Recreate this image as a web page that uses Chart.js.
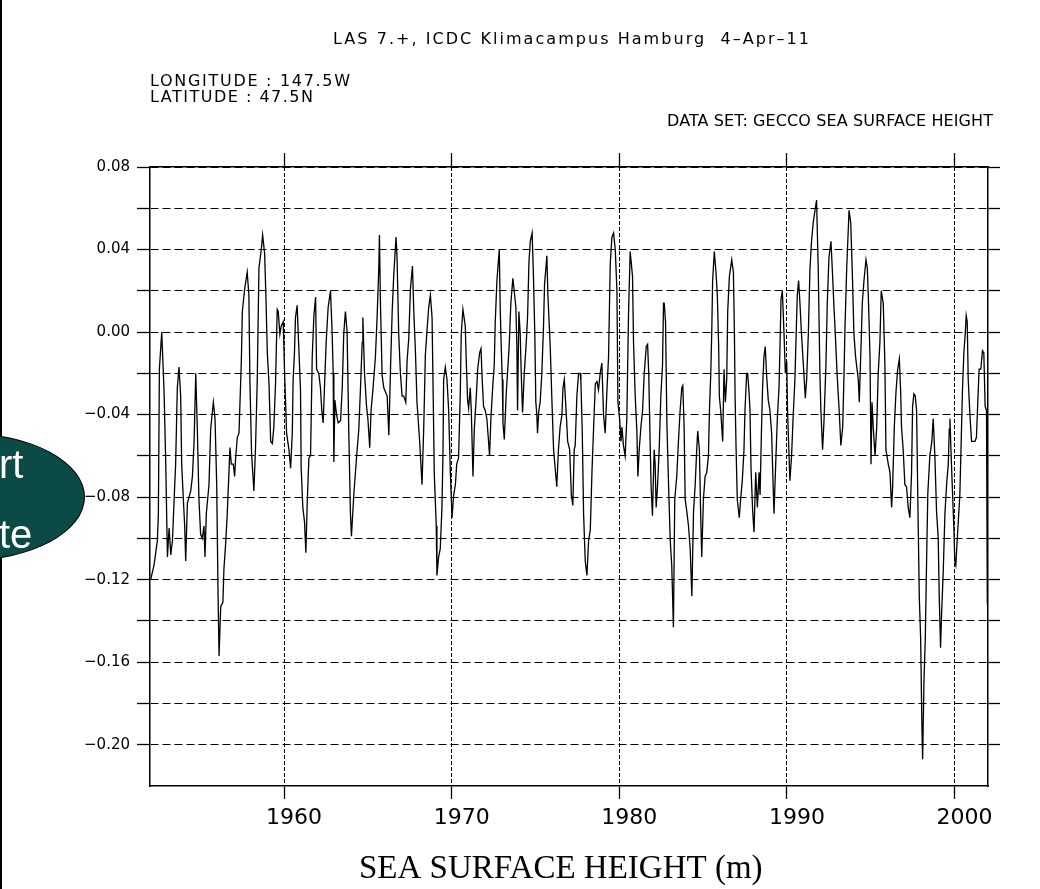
<!DOCTYPE html>
<html>
<head>
<meta charset="utf-8">
<title>GECCO sea surface height 147.5W 47.5N</title>
<script src="https://cdn.jsdelivr.net/npm/chart.js@4/dist/chart.umd.min.js"></script>
<style>
  html, body { margin: 0; padding: 0; background: #fff; }
  #page { position: relative; width: 1040px; height: 889px; overflow: hidden; background: #fff; }
  #sshChart { position: absolute; left: 0; top: 0; }
  .head { position: absolute; font-family: 'DejaVu Sans', sans-serif; font-size: 16px; line-height: 1; white-space: pre; color: #000; }
  #edge { position: absolute; left: 0; top: 0; width: 2px; height: 889px; background: #000; }
  #oval { position: absolute; left: -155px; top: 433px; width: 240px; height: 128px; border-radius: 50%;
          background: #0b4a45; border: 1px solid #000; box-sizing: border-box; }
  .ovalText { position: absolute; left: -1px; font-family: 'Liberation Sans', Arial, sans-serif; font-size: 40px; line-height: 1; color: #fff; }
</style>
</head>
<body>
<div id="page">
  <canvas id="sshChart" width="1040" height="889"></canvas>
  <div id="edge"></div>
  <div id="oval"></div>
  <div class="ovalText" style="top:444px">rt</div>
  <div class="ovalText" style="top:514px">te</div>
  <div class="head" id="hTitle" style="left:333px; top:30.6px">LAS 7.+, ICDC Klimacampus Hamburg  4–Apr–11</div>
  <div class="head" id="hLon" style="left:150px; top:73.3px">LONGITUDE : 147.5W</div>
  <div class="head" id="hLat" style="left:150px; top:88.6px">LATITUDE : 47.5N</div>
  <div class="head" id="hSet" style="left:667px; top:112.8px">DATA SET: GECCO SEA SURFACE HEIGHT</div>
</div>
<script>
// time axis (decimal years) and sea surface height (m)
const years = [
  1952.04, 1952.24, 1952.34, 1952.44, 1952.50, 1952.56, 1952.70, 1952.84, 1952.94,
  1953.04, 1953.14, 1953.24, 1953.34, 1953.43, 1953.53, 1953.63, 1953.73, 1953.83, 1953.89, 1953.99,
  1954.07, 1954.13, 1954.23, 1954.43, 1954.53, 1954.63, 1954.73, 1954.83, 1954.92,
  1955.02, 1955.12, 1955.22, 1955.28, 1955.36, 1955.52, 1955.62, 1955.78, 1955.88, 1955.98,
  1956.06, 1956.12, 1956.22, 1956.35, 1956.41, 1956.51, 1956.61, 1956.71, 1956.77, 1956.85, 1956.97,
  1957.05, 1957.11, 1957.21, 1957.31, 1957.45, 1957.51, 1957.65, 1957.80, 1957.90, 1957.96,
  1958.06, 1958.20, 1958.30, 1958.40, 1958.50, 1958.64, 1958.72, 1958.84, 1958.92,
  1959.00, 1959.10, 1959.20, 1959.30, 1959.39, 1959.49, 1959.59, 1959.65, 1959.75, 1959.83, 1959.95,
  1960.03, 1960.09, 1960.15, 1960.29, 1960.39, 1960.49, 1960.54, 1960.62, 1960.68, 1960.78, 1960.88, 1960.98,
  1961.02, 1961.12, 1961.22, 1961.30, 1961.38, 1961.48, 1961.58, 1961.68, 1961.78, 1961.88, 1961.94,
  1962.07, 1962.17, 1962.25, 1962.33, 1962.41, 1962.51, 1962.63, 1962.77, 1962.87, 1962.93, 1962.97,
  1963.03, 1963.13, 1963.23, 1963.37, 1963.47, 1963.56, 1963.66, 1963.76, 1963.86, 1963.96,
  1964.02, 1964.16, 1964.32, 1964.46, 1964.56, 1964.66, 1964.70, 1964.80, 1964.92,
  1965.00, 1965.11, 1965.19, 1965.31, 1965.45, 1965.55, 1965.65, 1965.69, 1965.75, 1965.85, 1965.95,
  1966.05, 1966.15, 1966.25, 1966.35, 1966.45, 1966.54, 1966.68, 1966.74, 1966.84, 1966.94,
  1967.04, 1967.14, 1967.26, 1967.34, 1967.44, 1967.54, 1967.66, 1967.74, 1967.84, 1967.93,
  1968.09, 1968.23, 1968.33, 1968.37, 1968.43, 1968.53, 1968.63, 1968.73, 1968.83, 1968.89, 1968.96,
  1969.02, 1969.08, 1969.12, 1969.22, 1969.32, 1969.42, 1969.48, 1969.52, 1969.62, 1969.72, 1969.82, 1969.92,
  1970.02, 1970.12, 1970.22, 1970.30, 1970.41, 1970.51, 1970.57, 1970.67, 1970.81, 1970.87, 1970.95,
  1971.01, 1971.11, 1971.17, 1971.27, 1971.35, 1971.47, 1971.55, 1971.67, 1971.75, 1971.81, 1971.90,
  1972.00, 1972.10, 1972.20, 1972.26, 1972.34, 1972.46, 1972.54, 1972.60, 1972.70, 1972.84, 1972.90, 1972.96,
  1973.02, 1973.06, 1973.14, 1973.26, 1973.33, 1973.43, 1973.53, 1973.65, 1973.73, 1973.83, 1973.89, 1973.93,
  1974.01, 1974.09, 1974.15, 1974.23, 1974.33, 1974.45, 1974.53, 1974.61, 1974.69, 1974.80, 1974.88, 1974.96,
  1975.02, 1975.08, 1975.12, 1975.20, 1975.28, 1975.38, 1975.48, 1975.54, 1975.68, 1975.74, 1975.88, 1975.98,
  1976.08, 1976.27, 1976.37, 1976.47, 1976.58, 1976.64, 1976.72, 1976.84, 1976.92,
  1977.04, 1977.14, 1977.23, 1977.31, 1977.37, 1977.47, 1977.57, 1977.67, 1977.71, 1977.79, 1977.87, 1977.97,
  1978.07, 1978.17, 1978.27, 1978.37, 1978.47, 1978.57, 1978.67, 1978.76, 1978.86, 1978.96,
  1979.06, 1979.16, 1979.26, 1979.36, 1979.46, 1979.56, 1979.66, 1979.76, 1979.86, 1979.92,
  1980.02, 1980.10, 1980.16, 1980.25, 1980.35, 1980.45, 1980.55, 1980.65, 1980.69, 1980.79, 1980.85, 1980.95,
  1981.05, 1981.11, 1981.19, 1981.29, 1981.39, 1981.49, 1981.61, 1981.69, 1981.76, 1981.84, 1981.90, 1981.98,
  1982.08, 1982.14, 1982.20, 1982.28, 1982.38, 1982.48, 1982.58, 1982.64, 1982.68, 1982.76, 1982.84, 1982.94,
  1983.04, 1983.13, 1983.23, 1983.31, 1983.43, 1983.53, 1983.63, 1983.73, 1983.79, 1983.87, 1983.93,
  1984.03, 1984.13, 1984.23, 1984.33, 1984.43, 1984.53, 1984.62, 1984.68, 1984.78, 1984.86, 1984.92,
  1985.02, 1985.12, 1985.22, 1985.32, 1985.38, 1985.46, 1985.52, 1985.57, 1985.67, 1985.77, 1985.85, 1985.93, 1985.97,
  1986.05, 1986.17, 1986.25, 1986.33, 1986.41, 1986.47, 1986.57, 1986.71, 1986.81, 1986.87, 1986.91, 1986.97,
  1987.04, 1987.16, 1987.24, 1987.34, 1987.44, 1987.50, 1987.60, 1987.66, 1987.74, 1987.80, 1987.86, 1987.96,
  1988.04, 1988.14, 1988.24, 1988.34, 1988.40, 1988.48, 1988.55, 1988.63, 1988.71, 1988.79, 1988.89, 1988.99,
  1989.09, 1989.15, 1989.23, 1989.35, 1989.43, 1989.53, 1989.59, 1989.65, 1989.73, 1989.83, 1989.91, 1989.99,
  1990.04, 1990.10, 1990.18, 1990.28, 1990.38, 1990.48, 1990.54, 1990.62, 1990.70, 1990.78, 1990.86, 1990.94,
  1991.02, 1991.10, 1991.18, 1991.28, 1991.38, 1991.47, 1991.57, 1991.77, 1991.87, 1991.97,
  1992.03, 1992.13, 1992.21, 1992.33, 1992.41, 1992.51, 1992.63, 1992.73, 1992.81, 1992.89,
  1993.00, 1993.12, 1993.22, 1993.33, 1993.41, 1993.47, 1993.57, 1993.71, 1993.81, 1993.91,
  1994.00, 1994.10, 1994.26, 1994.32, 1994.42, 1994.50, 1994.60, 1994.72, 1994.80, 1994.88, 1994.96,
  1995.02, 1995.08, 1995.16, 1995.26, 1995.36, 1995.45, 1995.55, 1995.63, 1995.75, 1995.85, 1995.91,
  1996.05, 1996.15, 1996.25, 1996.31, 1996.41, 1996.51, 1996.61, 1996.71, 1996.79, 1996.84, 1996.94,
  1997.04, 1997.14, 1997.24, 1997.34, 1997.44, 1997.50, 1997.58, 1997.66, 1997.74, 1997.82, 1997.90, 1997.98,
  1998.06, 1998.10, 1998.18, 1998.26, 1998.34, 1998.41, 1998.53, 1998.65, 1998.73, 1998.83, 1998.93,
  1999.03, 1999.09, 1999.17, 1999.23, 1999.33, 1999.43, 1999.53, 1999.63, 1999.69, 1999.73, 1999.79, 1999.87, 1999.96,
  2000.02, 2000.08, 2000.16, 2000.24, 2000.32, 2000.40, 2000.48, 2000.56, 2000.64, 2000.70, 2000.76, 2000.82, 2000.92,
  2001.02, 2001.12, 2001.22, 2001.31, 2001.39, 2001.47, 2001.57, 2001.67, 2001.75, 2001.83, 2001.91, 2001.96
];

const ssh = [
  -0.120, -0.113, -0.107, -0.101, -0.088, -0.018, 0.000, -0.029, -0.064,
  -0.109, -0.095, -0.108, -0.101, -0.083, -0.064, -0.027, -0.017, -0.031, -0.064, -0.081,
  -0.094, -0.111, -0.083, -0.077, -0.070, -0.053, -0.020, -0.049, -0.081,
  -0.098, -0.100, -0.094, -0.109, -0.088, -0.074, -0.047, -0.034, -0.042, -0.074,
  -0.127, -0.157, -0.133, -0.131, -0.115, -0.103, -0.088, -0.068, -0.056, -0.064, -0.064,
  -0.070, -0.061, -0.051, -0.049, -0.014, 0.010, 0.021, 0.029, 0.018, -0.023,
  -0.059, -0.077, -0.055, -0.023, 0.031, 0.040, 0.047, 0.038, 0.016,
  -0.010, -0.025, -0.053, -0.054, -0.046, -0.025, 0.011, 0.010, -0.001, 0.003, 0.005,
  -0.020, -0.034, -0.049, -0.057, -0.066, -0.049, -0.023, -0.010, 0.007, 0.013, -0.008, -0.028,
  -0.066, -0.085, -0.092, -0.107, -0.083, -0.061, -0.060, -0.012, 0.008, 0.017, -0.018,
  -0.020, -0.027, -0.038, -0.044, -0.027, -0.005, 0.012, 0.020, -0.001, -0.020, -0.063,
  -0.033, -0.040, -0.044, -0.043, -0.027, -0.001, 0.010, 0.000, -0.048, -0.088,
  -0.099, -0.079, -0.061, -0.047, -0.027, -0.005, 0.007, -0.020, -0.036,
  -0.042, -0.056, -0.038, -0.027, -0.012, 0.007, 0.031, 0.047, 0.014, -0.021, -0.027,
  -0.029, -0.031, -0.050, -0.018, 0.010, 0.027, 0.046, 0.036, -0.001, -0.020,
  -0.031, -0.031, -0.034, -0.014, -0.003, 0.021, 0.032, 0.010, -0.010, -0.034,
  -0.053, -0.074, -0.047, -0.033, -0.011, 0.001, 0.012, 0.018, 0.007, -0.027, -0.068,
  -0.081, -0.094, -0.118, -0.109, -0.105, -0.085, -0.059, -0.023, -0.017, -0.023, -0.038, -0.068,
  -0.090, -0.079, -0.074, -0.064, -0.061, -0.031, -0.001, 0.011, 0.003, -0.014, -0.033,
  -0.037, -0.027, -0.038, -0.070, -0.047, -0.031, -0.018, -0.010, -0.008, -0.021, -0.036,
  -0.038, -0.042, -0.053, -0.060, -0.042, -0.025, -0.016, 0.005, 0.025, 0.040, 0.010, -0.008,
  -0.023, -0.044, -0.052, -0.029, -0.020, -0.007, 0.014, 0.026, 0.020, 0.012, -0.007, -0.038,
  0.010, -0.001, -0.020, -0.039, -0.020, -0.005, 0.008, 0.034, 0.044, 0.048, 0.027, -0.001,
  -0.034, -0.040, -0.049, -0.038, -0.034, -0.020, 0.003, 0.023, 0.037, 0.018, -0.007, -0.033,
  -0.057, -0.075, -0.057, -0.046, -0.040, -0.027, -0.023, -0.040, -0.053,
  -0.057, -0.079, -0.084, -0.057, -0.055, -0.031, -0.020, -0.020, -0.024, -0.048, -0.088, -0.111,
  -0.118, -0.101, -0.096, -0.068, -0.046, -0.025, -0.024, -0.028, -0.020, -0.015,
  -0.040, -0.049, -0.029, -0.012, 0.033, 0.046, 0.048, 0.040, 0.020, -0.034,
  -0.042, -0.053, -0.046, -0.055, -0.060, -0.042, 0.008, 0.039, 0.039, 0.027, -0.005, -0.031,
  -0.048, -0.070, -0.057, -0.046, -0.038, -0.020, -0.007, -0.006, -0.021, -0.053, -0.075, -0.089,
  -0.057, -0.064, -0.085, -0.075, -0.057, -0.031, -0.016, 0.014, 0.014, 0.005, -0.044, -0.074,
  -0.101, -0.113, -0.143, -0.081, -0.070, -0.053, -0.038, -0.027, -0.026, -0.046, -0.081,
  -0.087, -0.094, -0.105, -0.128, -0.087, -0.074, -0.057, -0.048, -0.057, -0.090, -0.109,
  -0.081, -0.070, -0.068, -0.060, -0.038, -0.020, 0.001, 0.025, 0.039, 0.029, 0.018, -0.007, -0.031,
  -0.038, -0.053, -0.018, -0.034, -0.023, 0.010, 0.027, 0.035, 0.029, -0.001, -0.031, -0.057,
  -0.081, -0.090, -0.081, -0.072, -0.057, -0.038, -0.020, -0.020, -0.029, -0.038, -0.066, -0.087,
  -0.097, -0.068, -0.085, -0.068, -0.079, -0.049, -0.027, -0.012, -0.007, -0.021, -0.033, -0.038,
  -0.049, -0.066, -0.088, -0.060, -0.042, -0.027, -0.007, 0.016, 0.020, -0.001, -0.020, -0.014,
  -0.038, -0.053, -0.072, -0.060, -0.040, -0.023, -0.005, 0.018, 0.025, 0.014, 0.001, -0.010,
  -0.021, -0.032, -0.023, -0.001, 0.031, 0.044, 0.053, 0.064, 0.031, -0.020,
  -0.038, -0.057, -0.044, -0.016, 0.014, 0.036, 0.044, 0.027, 0.012, -0.001,
  -0.021, -0.038, -0.055, -0.046, -0.020, 0.003, 0.031, 0.059, 0.053, 0.027,
  -0.001, -0.012, -0.023, -0.034, -0.008, 0.014, 0.025, 0.035, 0.031, 0.012, -0.012,
  -0.064, -0.034, -0.047, -0.060, -0.046, -0.020, -0.005, 0.020, 0.014, -0.016, -0.057,
  -0.064, -0.068, -0.085, -0.075, -0.046, -0.029, -0.018, -0.013, -0.029, -0.046, -0.057,
  -0.074, -0.075, -0.085, -0.090, -0.068, -0.036, -0.030, -0.031, -0.038, -0.085, -0.128, -0.148,
  -0.193, -0.207, -0.169, -0.148, -0.109, -0.078, -0.060, -0.053, -0.042, -0.060, -0.087,
  -0.100, -0.128, -0.153, -0.137, -0.116, -0.088, -0.074, -0.064, -0.047, -0.042, -0.057, -0.075, -0.094,
  -0.111, -0.113, -0.101, -0.090, -0.079, -0.053, -0.027, -0.010, -0.001, 0.008, 0.005, -0.023, -0.040,
  -0.053, -0.053, -0.053, -0.051, -0.034, -0.018, -0.018, -0.009, -0.010, -0.036, -0.038, -0.132
];

// axis ticks
const yearTicks = [1960, 1970, 1980, 1990, 2000];
const heightTicks = [-0.20, -0.18, -0.16, -0.14, -0.12, -0.10, -0.08, -0.06, -0.04, -0.02, 0.00, 0.02, 0.04, 0.06, 0.08];
const labelledHeights = [-0.20, -0.16, -0.12, -0.08, -0.04, 0.00, 0.04, 0.08];

if (years.length !== ssh.length) {
    console.error('years/ssh length mismatch', years.length, ssh.length);
}

// spread the header text out like the original plot font
function fitWidth(id, target) {
    const el = document.getElementById(id);
    const n = el.textContent.length;
    const w = el.getBoundingClientRect().width;
    el.style.letterSpacing = ((target - w) / (n - 1)) + 'px';
}
fitWidth('hTitle', 476);
fitWidth('hLon', 200);
fitWidth('hLat', 163);
fitWidth('hSet', 326);

const setTicks = list => axis => { axis.ticks = list.map(v => ({ value: v })); };
const frame = { display: true, color: '#000', width: 1.5 };

const ctx = document.getElementById('sshChart').getContext('2d');
window.sshChart = new Chart(ctx, {
    type: 'line',
    data: {
        datasets: [{
            label: 'Sea surface height',
            data: years.map((t, i) => ({ x: t, y: ssh[i] })),
            borderColor: '#000',
            borderWidth: 1.3,
            pointRadius: 0,
            tension: 0,
            fill: false
        }]
    },
    options: {
        responsive: false,
        animation: false,
        events: [],
        layout: { padding: { left: 0, top: 153, right: 40, bottom: 0 } },
        plugins: {
            legend: { display: false },
            tooltip: { enabled: false }
        },
        scales: {
            x: {
                type: 'linear',
                position: 'bottom',
                min: 1952,
                max: 2002,
                bounds: 'data',
                afterBuildTicks: setTicks(yearTicks),
                afterFit: s => { s.height = 103; },
                ticks: {
                    autoSkip: false,
                    maxRotation: 0,
                    padding: 6,
                    labelOffset: 10,
                    color: '#000',
                    font: { family: 'DejaVu Sans', size: 22 },
                    callback: v => String(v)
                },
                grid: { color: '#000', lineWidth: 1, tickLength: 13, tickWidth: 1.3, tickColor: '#000' },
                border: Object.assign({ dash: [4, 2] }, frame),
                title: {
                    display: true,
                    text: 'SEA SURFACE HEIGHT (m)  ',
                    color: '#000',
                    font: { family: 'Liberation Serif', size: 33 },
                    padding: { top: 0, bottom: 0 }
                }
            },
            xTop: {
                type: 'linear',
                position: 'top',
                min: 1952,
                max: 2002,
                bounds: 'data',
                afterBuildTicks: setTicks(yearTicks),
                afterFit: s => { s.height = 14; },
                ticks: { display: false },
                grid: { drawOnChartArea: false, tickLength: 14, tickWidth: 1.3, tickColor: '#000' },
                border: frame
            },
            y: {
                type: 'linear',
                position: 'left',
                min: -0.22,
                max: 0.08,
                bounds: 'data',
                afterBuildTicks: setTicks(heightTicks),
                afterFit: s => { s.width = 150; },
                ticks: {
                    autoSkip: false,
                    padding: 7,
                    color: '#000',
                    font: { family: 'DejaVu Sans', size: 15 },
                    callback: v => labelledHeights.some(h => Math.abs(h - v) < 1e-6)
                        ? v.toFixed(2).replace('-', '\u2212') : ''
                },
                grid: { color: '#000', lineWidth: 1, tickLength: 13, tickWidth: 1.3, tickColor: '#000' },
                border: Object.assign({ dash: [8, 4] }, frame)
            },
            yRight: {
                type: 'linear',
                position: 'right',
                min: -0.22,
                max: 0.08,
                bounds: 'data',
                afterBuildTicks: setTicks(heightTicks),
                afterFit: s => { s.width = 12; },
                ticks: { display: false },
                grid: { drawOnChartArea: false, tickLength: 12, tickWidth: 1.3, tickColor: '#000' },
                border: frame
            }
        }
    }
});
</script>
</body>
</html>
